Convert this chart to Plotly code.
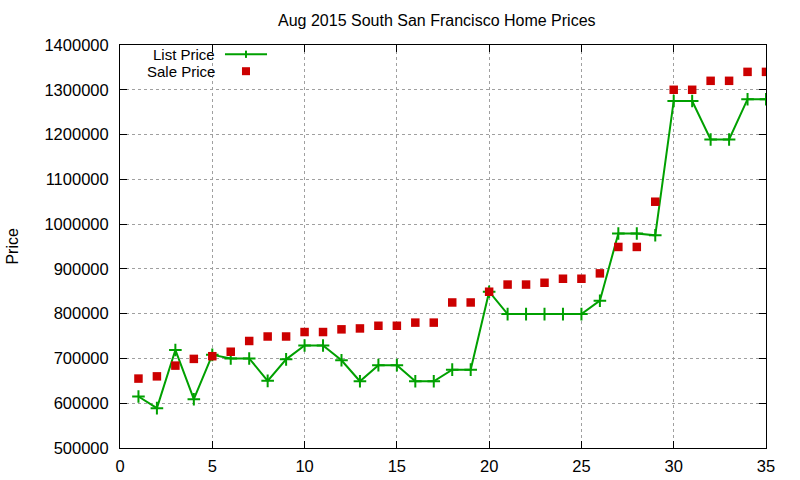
import plotly.graph_objects as go

# home index (x) and prices
homes = list(range(1, 36))
list_price = [615000, 589000, 719000, 609000, 708000, 700000, 700000, 650000, 698000, 729000,
              729000, 696000, 649000, 685000, 685000, 649000, 649000, 675000, 675000, 849000,
              799000, 799000, 799000, 799000, 799000, 829000, 979000, 979000, 975000, 1275000,
              1275000, 1189000, 1189000, 1279000, 1279000]
sale_price = [655000, 660000, 684000, 699000, 705000, 715000, 739000, 749000, 749000, 759000,
              759000, 765000, 767000, 773000, 773000, 780000, 780000, 825000, 825000, 849000,
              865000, 865000, 869000, 878000, 878000, 890000, 949000, 949000, 1050000, 1300000,
              1300000, 1320000, 1320000, 1340000, 1340000]

x_ticks = [0, 5, 10, 15, 20, 25, 30, 35]
y_ticks = list(range(500000, 1400001, 100000))

green = "#00a000"
red = "#cc0000"
font = "Liberation Sans, Arial, sans-serif"

fig = go.Figure()

fig.add_trace(go.Scatter(
    x=homes, y=list_price, mode="lines+markers", name="List Price",
    line=dict(color=green, width=2),
    marker=dict(symbol="cross-thin", size=9, line=dict(color=green, width=2)),
    showlegend=False
))
fig.add_trace(go.Scatter(
    x=homes, y=sale_price, mode="markers", name="Sale Price",
    marker=dict(symbol="square", size=8.5, color=red),
    showlegend=False
))

# gnuplot style key: text on the left, sample on the right
key_text_x = 0.1486
key_x0, key_x1, key_mid = 0.1625, 0.2276, 0.195
key_y_list, key_y_sale = 0.977, 0.935
for label, ky in [("List Price", key_y_list), ("Sale Price", key_y_sale)]:
    fig.add_annotation(x=key_text_x, y=ky, xref="paper", yref="paper", text=label,
                       showarrow=False, xanchor="right", yanchor="middle", borderpad=0,
                       font=dict(size=15, color="black", family=font))
fig.add_shape(type="line", xref="paper", yref="paper", x0=key_x0, x1=key_x1,
              y0=key_y_list, y1=key_y_list, line=dict(color=green, width=2))
fig.add_shape(type="line", xref="paper", yref="paper", x0=key_mid, x1=key_mid,
              y0=key_y_list - 0.009, y1=key_y_list + 0.009, line=dict(color=green, width=2))
fig.add_shape(type="rect", xref="paper", yref="paper", x0=key_mid - 0.0062, x1=key_mid + 0.0062,
              y0=key_y_sale - 0.0099, y1=key_y_sale + 0.0099, line=dict(width=0), fillcolor=red)

# y axis title placed like gnuplot's ylabel
fig.add_annotation(x=-0.167, y=0.5, xref="paper", yref="paper", text="Price",
                   textangle=-90, showarrow=False, xanchor="center", yanchor="middle",
                   font=dict(size=16, color="black", family=font))

fig.update_layout(
    width=800, height=480,
    title=dict(text="Aug 2015 South San Francisco Home Prices", x=0.546, xanchor="center",
               y=0.958, yanchor="middle", font=dict(size=16, color="black", family=font)),
    plot_bgcolor="white", paper_bgcolor="white",
    margin=dict(l=120, r=34, t=45, b=32, autoexpand=False),
    font=dict(family=font, size=16.5, color="black"),
)
fig.update_xaxes(
    range=[0, 35], tickmode="array", tickvals=x_ticks, automargin=False,
    showline=True, linecolor="black", linewidth=1, mirror="allticks",
    ticks="inside", ticklen=7, tickcolor="black", ticklabelstandoff=3,
    showgrid=True, gridcolor="#a0a0a0", griddash="dot", gridwidth=1, zeroline=False,
)
fig.update_yaxes(
    range=[500000, 1400000], tickmode="array", tickvals=y_ticks, automargin=False,
    tickformat="d",
    showline=True, linecolor="black", linewidth=1, mirror="allticks",
    ticks="inside", ticklen=7, tickcolor="black", ticklabelstandoff=7,
    showgrid=True, gridcolor="#a0a0a0", griddash="dot", gridwidth=1, zeroline=False,
)

fig.write_html("out.html", config={"displayModeBar": False},
               post_script="document.body.style.margin = '0';")
